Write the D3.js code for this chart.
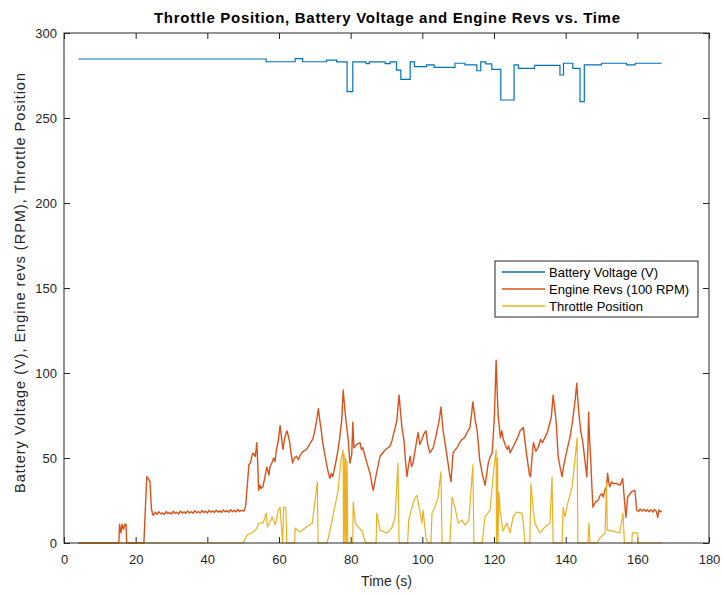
<!DOCTYPE html>
<html><head><meta charset="utf-8">
<script src="https://cdn.jsdelivr.net/npm/d3@7"></script>
<style>
body{margin:0;background:#fff}
svg{display:block}
text{font-family:"Liberation Sans",Arial,Helvetica,sans-serif}
</style>
</head><body>
<svg id="c" width="723" height="595"></svg>
<script>
// ---------------- data ----------------
const xTicks = [0, 20, 40, 60, 80, 100, 120, 140, 160, 180];
const yTicks = [0, 50, 100, 150, 200, 250, 300];
const seriesNames = ["Battery Voltage (V)", "Engine Revs (100 RPM)", "Throttle Position"];

// Battery voltage: step levels [time at which level starts, level]
const batteryVoltage = [
  [4,284.7],[56.4,283.1],[64.5,284.9],[66.6,283.1],[73.3,284],[76.1,283],[79,265.5],[80.6,283],
  [84.3,282],[85.2,283],[89.6,282],[91,283],[92.8,278.2],[94,272.7],[96.6,283],[97.8,280.2],
  [101.2,281.2],[103.3,279.8],[109.1,282.2],[111.9,281.2],[115.2,277.8],[116.3,283],[117.7,281.8],
  [119.4,278.6],[121.9,260.6],[125.6,281.2],[126.8,279.2],[131.3,281],[138.4,275.3],[139.4,282.2],
  [142,279.2],[144,259.6],[145.2,281.2],[150,282.2],[157,281.2],[159.4,282.2],[166.8,282.2]
];

// Engine revs (x100 RPM)
const engineRevs = [
  [4,0],[15.3,0],[15.5,11],[15.9,6],[16.2,11],[16.6,8],[17.0,11],[17.3,11],[17.5,0],[22.3,0],
  [22.7,20],[23.1,39],[23.5,38],[24.0,36],[24.4,20],[24.8,16.5],
  [25,16.5],[25.5,18.1],[26,16.9],[26.5,18.4],[27,17.1],[27.5,17.7],[28,16.8],[28.5,18.5],[29,17.3],
  [29.5,18.0],[30,17.0],[30.5,18.7],[31,17.5],[31.5,18.1],[32,17.1],[32.5,18.8],[33,17.6],[33.5,18.3],
  [34,17.4],[34.5,18.9],[35,17.7],[35.5,18.4],[36,17.5],[36.5,19.0],[37,17.8],[37.5,18.5],[38,17.6],
  [38.5,19.1],[39,17.9],[39.5,18.7],[40,17.7],[40.5,19.2],[41,18.1],[41.5,18.8],[42,17.9],[42.5,19.3],
  [43,18.2],[43.5,18.9],[44,18.0],[44.5,19.5],[45,18.3],[45.5,19.0],[46,18.1],[46.5,19.6],[47,18.4],
  [47.5,19.2],[48,18.3],[48.5,19.7],[49,18.5],[49.5,19.3],[50,18.7],
  [50.3,19],[50.7,22],[51.2,35],[51.6,46],[52,47],[52.4,51],[52.8,53],[53.4,51],[53.8,59],[54.1,45],
  [54.3,31],[54.7,34],[55.0,32],[55.5,33],[56.0,38],[56.6,44.7],[57.2,40],[57.5,45],[58.0,47],
  [58.5,50],[58.9,48],[59.3,55],[59.8,60],[60.3,69],[60.7,62],[61.1,55],[61.6,62],[62.2,66],[62.6,63],
  [63,59],[63.4,52],[63.8,47],[64.3,50],[64.9,51],[65.4,49],[66,52],[66.8,54],[67.7,55],[68.5,58],
  [69.4,61],[70.0,66],[70.5,72],[71.0,79],[71.4,72],[71.8,66],[72.2,59],[72.8,52],[73.4,45],[73.8,41],
  [74.2,38],[74.6,41],[75,39],[75.8,47],[76.5,55],[77.0,63],[77.5,72],[77.9,90],[78.4,78],[78.8,70],
  [79.3,61],[79.8,47],[80.3,52],[80.6,71],[80.9,56],[81.7,58],[82.6,59],[83.0,55],[83.4,56],[84.4,48],
  [85.4,41],[85.9,35],[86.3,31],[87.2,41],[88.2,51],[89.3,54],[90.4,56],[91.0,57],[91.5,60],[92.2,66],
  [92.9,72],[93.2,80],[93.5,87],[94.0,75],[94.3,68],[94.9,60],[95.3,48],[95.7,39],[96.1,45],[96.6,51],
  [97.0,45],[97.4,47],[98.1,56],[98.8,65],[99.3,58],[99.9,61],[100.4,64],[101.0,66],[101.5,58],
  [102.1,53],[103,56],[103.6,61],[104.1,66],[104.7,72],[105.2,80],[105.8,66],[106.4,58],[106.9,51],
  [107.5,42],[108,36],[108.3,45],[108.6,53],[109.2,55],[109.7,56],[110.4,59],[111.1,61],[111.8,62],
  [112.5,65],[113.3,68],[113.7,75],[114.1,83],[114.7,73],[115.3,66],[115.7,57],[116,49],[116.8,40],
  [117.5,34],[118.0,41],[118.4,47],[119.0,51],[119.5,53],[120.1,74],[120.6,107.6],[120.9,88],[121.2,74],
  [121.8,62],[122.2,66],[122.6,61],[123.1,58],[123.7,55],[124.1,57],[124.5,53],[125.2,56],[125.9,59],
  [126.6,62],[127.3,66],[128.2,68],[128.8,57],[129.3,49],[129.9,40],[130.2,39],[130.6,50],[131,59],
  [131.7,54],[132.4,56.5],[133.0,61],[133.5,59],[134.2,62],[134.9,65],[135.5,70],[136,74],[136.5,87],
  [137.0,78],[137.4,70],[137.9,51],[138.5,44],[139,39],[139.4,45],[139.8,49],[140.5,56],[141.2,62],
  [141.8,70],[142.3,78],[142.7,85],[143.1,94],[143.4,84],[143.7,76],[144.2,66],[144.8,59],[145.4,48],
  [145.9,39],[146.2,55],[146.4,77],[146.7,60],[147,49],[147.3,34],[147.6,21],[148.3,24],[149,25],
  [149.6,28],[150.1,29],[150.5,27],[150.9,31],[151.4,33],[151.7,41],[152.0,36],[152.3,33],[152.8,36],
  [153.2,35],[154.1,35],[155.1,34],[155.6,36],[155.9,38],[156.3,28],[156.8,15],[157.3,27],[158.3,30],
  [159.3,31],[159.6,25],[159.8,19.4],[160.3,18.5],[160.8,20],[161.3,18.8],[161.8,19.8],[162.3,18.6],
  [162.8,19.6],[163.3,18.4],[163.8,19.5],[164.3,18.2],[164.8,19.7],[165.3,18.5],[165.7,15],[166,19.5],
  [166.4,18.3],[166.8,19]
];

// Throttle position
const throttlePosition = [
  [4,0],[50,0],[51.1,4.7],[52.5,6],[53.6,8],[54.4,11.7],[55.6,11.7],[56.4,17.6],[56.8,9.4],[58.1,15.3],
  [59,10.6],[59.8,19.4],[60.3,21],[60.6,12],[61.0,0],[61.3,21],[61.9,21],[62.2,0],[64.4,0],[64.5,8.8],
  [65.8,6.5],[67.7,9.4],[69.3,11.7],[70.7,36],[70.9,0],[73.4,0],[74.2,7],[75,15.3],[76.5,31],[77.3,48.8],
  [77.9,54.7],[78.0,0],[78.2,52],[78.4,0],[78.6,50],[78.8,0],[79,48],[79.2,0],[80.6,0],[80.7,24],
  [81.3,11.7],[82.1,9.4],[83.2,7],[84.1,0],[87.1,0],[87.3,17.6],[88.2,7.6],[90.1,5.9],[91.5,8.8],
  [92.4,15.3],[93.2,47],[93.5,0],[95.9,0],[96.2,13.5],[97.1,21],[98,27],[98.5,28],[99.1,21],[99.9,11.7],
  [100.2,19.4],[101,3],[101.6,0],[102.4,0],[102.7,17.6],[103.5,21],[104.4,27],[105.2,41.8],[105.5,0],
  [107.7,0],[108.3,27],[109.1,21],[110,11.7],[111.1,13.5],[111.9,10.6],[113,13.5],[114.1,46],[114.4,0],
  [116.7,0],[117.5,15.3],[118.9,19.4],[120,44.7],[120.6,54.7],[120.7,0],[121,50],[121.1,0],[121.4,30],
  [121.7,19.4],[122.5,7],[123.6,11.7],[124.5,5.9],[125.3,15.3],[126.4,18.2],[127.8,17.6],[128.2,11.7],
  [128.6,0],[130,0],[130.3,35],[130.9,21],[131.4,11.7],[132.8,5.9],[134.2,9.4],[135.6,11.7],[136.2,38.8],
  [136.5,0],[139,0],[139.3,21],[139.8,15.3],[140.6,23.5],[141.8,33],[142.3,43],[143.2,61.8],[143.4,0],
  [146.2,0],[146.5,11.7],[146.8,0],[148.7,0],[149.6,3],[151,5.9],[151.4,35],[151.6,7.6],[153.2,7],
  [155.1,5.9],[156,17.6],[156.4,0],[158.5,0],[158.6,5.9],[160.1,5.9],[160.2,0],[166.9,0]
];

// ---------------- chart ----------------
const W = 723, H = 595;
const m = {left: 64, right: 709, top: 33, bottom: 543};
const svg = d3.select("#c");
svg.append("rect").attr("width", W).attr("height", H).attr("fill", "#fff");

const x = d3.scaleLinear().domain([0, 180]).range([m.left, m.right]);
const y = d3.scaleLinear().domain([0, 300]).range([m.bottom, m.top]);
const axisColor = "#262626";
const tickLen = 6;

function styleAxis(g, hideText) {
  g.select(".domain").remove();
  g.selectAll(".tick line").attr("stroke", axisColor).attr("stroke-width", 1);
  g.selectAll(".tick text").attr("fill", axisColor).attr("font-size", 13);
  if (hideText) g.selectAll(".tick text").remove();
}

svg.append("g").attr("transform", `translate(0,${m.bottom})`)
  .call(d3.axisBottom(x).tickValues(xTicks).tickSize(-tickLen).tickPadding(12).tickFormat(d3.format("d")))
  .call(g => styleAxis(g, false));
svg.append("g").attr("transform", `translate(0,${m.top})`)
  .call(d3.axisTop(x).tickValues(xTicks).tickSize(-tickLen))
  .call(g => styleAxis(g, true));
svg.append("g").attr("transform", `translate(${m.left},0)`)
  .call(d3.axisLeft(y).tickValues(yTicks).tickSize(-tickLen).tickPadding(7).tickFormat(d3.format("d")))
  .call(g => styleAxis(g, false));
svg.append("g").attr("transform", `translate(${m.right},0)`)
  .call(d3.axisRight(y).tickValues(yTicks).tickSize(-tickLen))
  .call(g => styleAxis(g, true));

// lines
const colors = ["#0072BD", "#D95319", "#EDB120"];
const lineStep = d3.line().x(d => x(d[0])).y(d => y(d[1])).curve(d3.curveStepAfter);
const lineLin = d3.line().x(d => x(d[0])).y(d => y(d[1]));

svg.append("path").datum(batteryVoltage).attr("d", lineStep)
  .attr("fill", "none").attr("stroke", colors[0]).attr("stroke-width", 1.2);
svg.append("path").datum(engineRevs).attr("d", lineLin)
  .attr("fill", "none").attr("stroke", colors[1]).attr("stroke-width", 1.4).attr("stroke-linejoin", "round");
svg.append("path").datum(throttlePosition).attr("d", lineLin)
  .attr("fill", "none").attr("stroke", colors[2]).attr("stroke-width", 1.2).attr("stroke-linejoin", "round");

// box
svg.append("rect").attr("x", m.left).attr("y", m.top)
  .attr("width", m.right - m.left).attr("height", m.bottom - m.top)
  .attr("fill", "none").attr("stroke", axisColor).attr("stroke-width", 1);

// title and labels
svg.append("text").attr("x", 387).attr("y", 23)
  .attr("text-anchor", "middle").attr("font-size", 15).attr("font-weight", "bold")
  .attr("textLength", 466).attr("lengthAdjust", "spacing")
  .attr("fill", "#000").text("Throttle Position, Battery Voltage and Engine Revs vs. Time");
svg.append("text").attr("x", (m.left + m.right) / 2).attr("y", 586)
  .attr("text-anchor", "middle").attr("font-size", 14).attr("fill", axisColor).text("Time (s)");
svg.append("text").attr("transform", `translate(25,283) rotate(-90)`)
  .attr("text-anchor", "middle").attr("font-size", 14.5).attr("fill", axisColor)
  .attr("textLength", 420).attr("lengthAdjust", "spacing")
  .text("Battery Voltage (V), Engine revs (RPM), Throttle Position");

// legend
const lg = svg.append("g").attr("transform", "translate(495,261)");
lg.append("rect").attr("width", 203).attr("height", 56).attr("fill", "#fff")
  .attr("stroke", axisColor).attr("stroke-width", 1);
seriesNames.forEach((name, i) => {
  const yy = 11 + i * 17;
  lg.append("line").attr("x1", 7).attr("x2", 50).attr("y1", yy).attr("y2", yy)
    .attr("stroke", colors[i]).attr("stroke-width", 1.5);
  lg.append("text").attr("x", 54).attr("y", yy).attr("dy", "0.35em")
    .attr("font-size", 13).attr("fill", "#000").text(name);
});
</script>
</body></html>
